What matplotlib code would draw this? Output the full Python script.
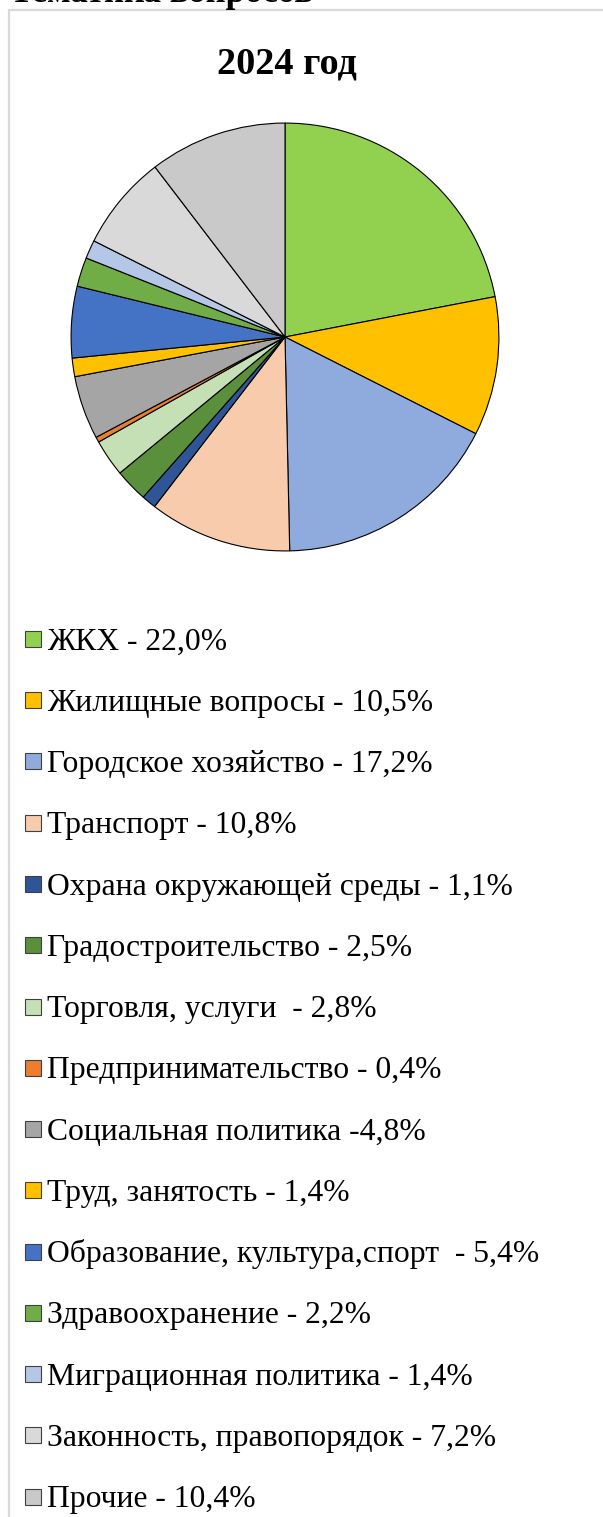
import matplotlib
matplotlib.use("Agg")
import matplotlib.pyplot as plt
from matplotlib.patches import Rectangle

plt.rcParams["font.family"] = ["Liberation Serif", "DejaVu Serif"]

W, H = 603, 1517

labels = [
    "ЖКХ - 22,0%",
    "Жилищные вопросы - 10,5%",
    "Городское хозяйство - 17,2%",
    "Транспорт - 10,8%",
    "Охрана окружающей среды - 1,1%",
    "Градостроительство - 2,5%",
    "Торговля, услуги  - 2,8%",
    "Предпринимательство - 0,4%",
    "Социальная политика -4,8%",
    "Труд, занятость - 1,4%",
    "Образование, культура,спорт  - 5,4%",
    "Здравоохранение - 2,2%",
    "Миграционная политика - 1,4%",
    "Законность, правопорядок - 7,2%",
    "Прочие - 10,4%",
]
values = [22.0, 10.5, 17.2, 10.8, 1.1, 2.5, 2.8, 0.4, 4.8, 1.4, 5.4, 2.2, 1.4, 7.2, 10.4]
colors = [
    "#92D050", "#FFC000", "#8FAADC", "#F8CBAD", "#2F5597",
    "#5A8F3C", "#C5E0B4", "#ED7D31", "#A5A5A5", "#FFC000",
    "#4472C4", "#70AD47", "#B4C7E7", "#D9D9D9", "#C9C9C9",
]

fig = plt.figure(figsize=(W / 100, H / 100), dpi=100)

# frame of the chart area (cut by the image edges on the right and bottom)
fig.patches.append(Rectangle((9 / W, -0.01), 1.0, 1 - 10 / H + 0.01,
                             transform=fig.transFigure, fill=False,
                             edgecolor="#D9D9D9", linewidth=1.6))

# heading of the page, mostly cut off above the image
fig.text(10 / W, 1 - 2 / H, "Тематика вопросов", fontsize=25, fontweight="bold",
         ha="left", va="baseline")

fig.text(287 / W, 1 - 73 / H, "2024 год", fontsize=27.5, fontweight="bold",
         ha="center", va="baseline")

# pie
cx, cy, r = 285, 337, 215
ax = fig.add_axes([(cx - r) / W, 1 - (cy + r) / H, 2 * r / W, 2 * r / H])
ax.pie(values, colors=colors, startangle=90, counterclock=False,
       wedgeprops=dict(edgecolor="black", linewidth=0.8))
ax.set_xlim(-1.005, 1.005)
ax.set_ylim(-1.005, 1.005)
ax.set_aspect("auto")
ax.axis("off")

# legend, one row per category
y0, step = 639, 61.25
for i, (lab, col) in enumerate(zip(labels, colors)):
    yc = y0 + i * step
    fig.patches.append(Rectangle((25 / W, 1 - (yc + 8) / H), 16 / W, 16 / H,
                                 transform=fig.transFigure, facecolor=col,
                                 edgecolor="#404040", linewidth=0.8))
    fig.text(47 / W, 1 - (yc + 10.5) / H, lab, fontsize=22.8,
             ha="left", va="baseline")

fig.savefig("out.png", dpi=100)
